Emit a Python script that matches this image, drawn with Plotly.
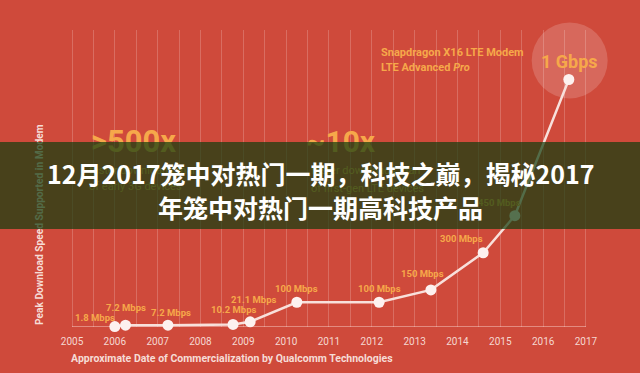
import plotly.graph_objects as go

# ---- data ----
years = [2006.0, 2006.25, 2007.24, 2008.76, 2009.16, 2010.25, 2012.17, 2013.38, 2014.60, 2015.34, 2016.60]
speeds = [1.8, 7.2, 7.2, 10.2, 21.1, 100, 100, 150, 300, 450, 1000]
speed_labels = ["1.8 Mbps", "7.2 Mbps", "7.2 Mbps", "10.2 Mbps", "21.1 Mbps", "100 Mbps",
                "100 Mbps", "150 Mbps", "300 Mbps", "450 Mbps", None]
label_dx = [-20, 0, 3, 0, 3, 0, 0, -8, -22, -15, 0]
label_dy = [9, 18, 13, 15, 22, 14, 14, 16, 14, 13, 0]
tick_years = list(range(2005, 2018))
half_years = [y + 0.5 for y in range(2005, 2017)]

title_line1 = "12月2017笼中对热门一期，科技之巅，揭秘2017"
title_line2 = "年笼中对热门一期高科技产品"

W, H = 640, 373
MT, MB = 30, 46
X_RANGE = [2003.319, 2018.262]
Y_RANGE = [0, 1200]
PLOT_H = H - MT - MB

BG = "#cf4a3b"
ORANGE = "#f6a84a"
PALE = "#f6dcd6"

def px(xp):
    return xp / W

def py(yp):
    return (H - MB - yp) / PLOT_H

fig = go.Figure()

# bubble behind 1 Gbps point
fig.add_trace(go.Scatter(
    x=[years[-1] + 0.02], y=[speeds[-1] + 77], mode="markers",
    marker=dict(size=76, color="rgba(255,255,255,0.17)", line=dict(width=0)),
    cliponaxis=False, hoverinfo="skip", showlegend=False))

fig.add_trace(go.Scatter(
    x=years, y=speeds, mode="lines+markers",
    line=dict(color="#f8e0db", width=2.5),
    marker=dict(size=11, color="#fdf1ef", line=dict(width=0)),
    cliponaxis=False, showlegend=False))

# bottom axis line
fig.add_shape(type="line", xref="x", yref="y", x0=tick_years[0], x1=tick_years[-1], y0=0, y1=0,
              line=dict(color="rgba(255,235,230,0.55)", width=1.5), layer="between")

ann = []
font_c = "Roboto"
for x, y, t, dx, dy in zip(years, speeds, speed_labels, label_dx, label_dy):
    if t:
        ann.append(dict(x=x, y=y, xref="x", yref="y", text="<b>%s</b>" % t, showarrow=False,
                        xshift=dx, yshift=dy, font=dict(family=font_c, size=9.5, color=ORANGE)))

def txt(xp, yp, text, size, color=ORANGE, xanchor="center", angle=0, family=font_c):
    ann.append(dict(x=px(xp), y=py(yp), xref="paper", yref="paper", text=text, showarrow=False,
                    xanchor=xanchor, yanchor="middle", textangle=angle,
                    font=dict(family=family, size=size, color=color)))

txt(133, 141, "<b>&gt;500x</b>", 31)
txt(341, 141, "<b>~10x</b>", 30)
txt(87, 171, "faster downloads than", 11, xanchor="left")
txt(87, 187, "of early 3G devices", 11, xanchor="left")
txt(309, 171, "faster downloads than", 11, xanchor="left")
txt(309, 188, "of first-gen LTE devices", 11, xanchor="left")
txt(379, 53, "<b>Snapdragon X16 LTE Modem</b>", 11, xanchor="left")
txt(379, 67, "<b>LTE Advanced <i>Pro</i></b>", 11, xanchor="left")
txt(569, 62, "<b>1 Gbps</b>", 18)
txt(39, 225, "<b>Peak Download Speed Supported in Modem</b>", 10.2, color=PALE, angle=-90)
txt(69, 358, "<b>Approximate Date of Commercialization by Qualcomm Technologies</b>", 10.5,
    color=PALE, xanchor="left")

# dark overlay band
ann.append(dict(x=0, y=py(142), xref="paper", yref="paper", xanchor="left", yanchor="top",
                text=" ", showarrow=False, width=W, height=87, borderpad=0, borderwidth=0,
                bgcolor="rgba(20,62,15,0.72)"))
txt(321, 173, "<b>%s</b>" % title_line1, 25, color="white", family="Noto Sans CJK SC")
txt(320, 207, "<b>%s</b>" % title_line2, 25, color="white", family="Noto Sans CJK SC")

fig.update_layout(
    width=W, height=H, margin=dict(l=0, r=0, t=MT, b=MB),
    paper_bgcolor=BG, plot_bgcolor=BG,
    annotations=ann,
    xaxis=dict(range=X_RANGE, tickvals=tick_years, ticktext=[str(y) for y in tick_years],
               showgrid=True, gridcolor="rgba(255,235,230,0.22)", gridwidth=1,
               minor=dict(tickvals=half_years, showgrid=True, gridcolor="rgba(255,235,230,0.22)",
                          gridwidth=1, ticks=""),
               zeroline=False, showline=False, ticks="outside", ticklen=5,
               tickcolor="rgba(0,0,0,0)", fixedrange=True,
               tickfont=dict(family=font_c, size=10, color="#f5d8d1")),
    yaxis=dict(range=Y_RANGE, showgrid=False, zeroline=False, showticklabels=False,
               showline=False, fixedrange=True),
)

fig.write_html("out.html", config={"displayModeBar": False},
               post_script="document.body.style.margin='0';document.body.style.overflow='hidden';")
